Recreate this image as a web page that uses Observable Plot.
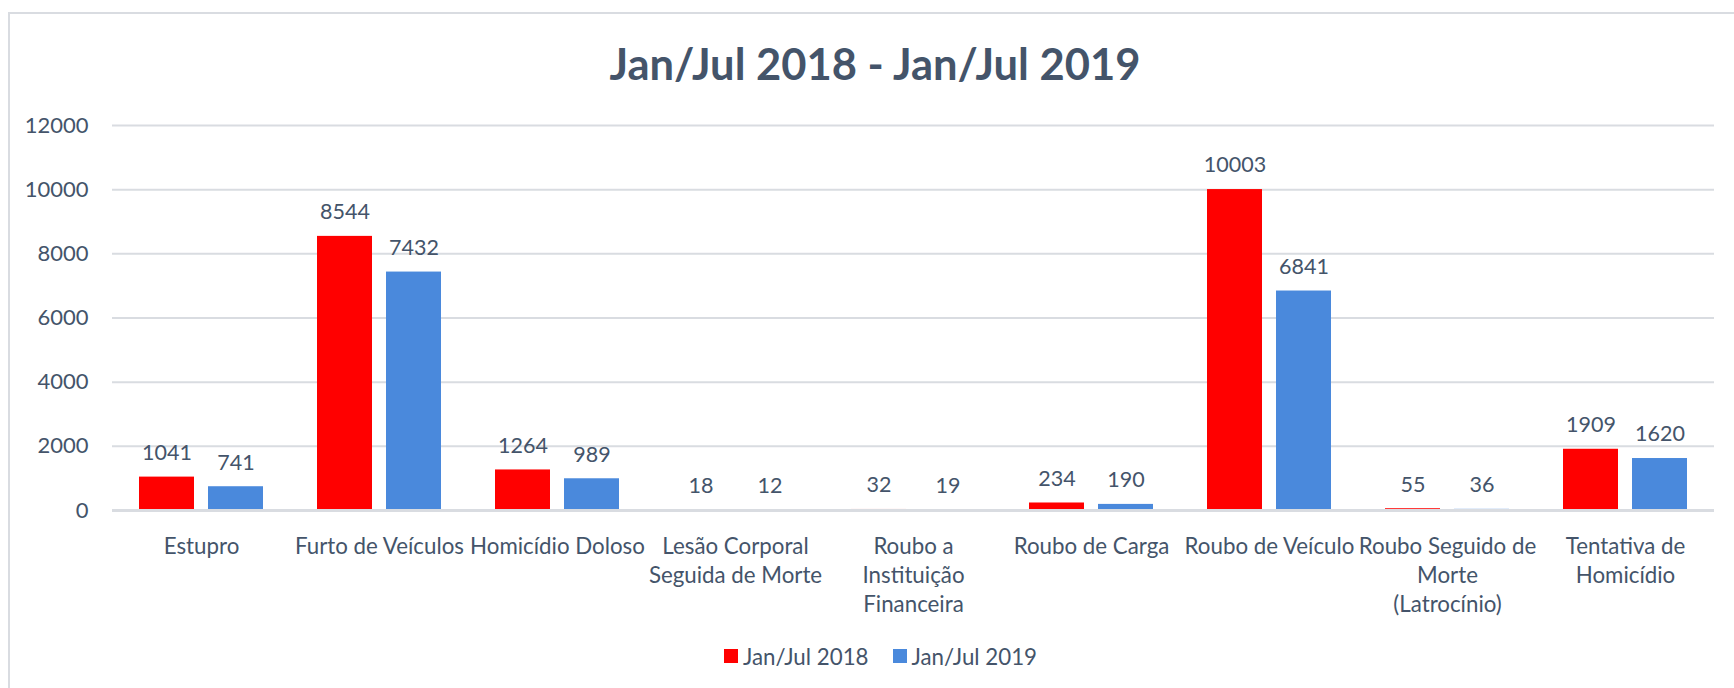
<!DOCTYPE html>
<html><head><meta charset="utf-8">
<script src="https://cdn.jsdelivr.net/npm/d3@7"></script>
<script src="https://cdn.jsdelivr.net/npm/@observablehq/plot@0.6"></script>
<style>
html,body{margin:0;padding:0;background:#fff;overflow:hidden;width:1734px;height:688px}
#wrap{position:relative;width:1734px;height:688px;overflow:hidden;font-family:Lato,"Open Sans",sans-serif;color:#44546a}
#frame{position:absolute;left:8px;top:12px;width:1726px;height:676px;border-top:2px solid #d9dce1;border-left:2px solid #d9dce1;box-sizing:border-box}
#title{position:absolute;left:0;width:1750px;top:41px;text-align:center;font-weight:bold;font-size:43.5px;line-height:45px;white-space:nowrap}
#chart{position:absolute;left:0;top:95px}
#legend{position:absolute;left:0;width:1761px;top:641px;height:30px;display:flex;justify-content:center;align-items:center;font-size:22.3px}
.item{display:flex;align-items:center;margin:0 12px}
.sw{width:14px;height:14px;margin-right:5px}
</style>
</head><body>
<div id="wrap">
  <div id="frame"></div>
  <div id="title"></div>
  <div id="chart"></div>
  <div id="legend"></div>
</div>
<script>
const titleText = "Jan/Jul 2018 - Jan/Jul 2019";
const categories = ["Estupro","Furto de Veículos","Homicídio Doloso","Lesão Corporal Seguida de Morte","Roubo a Instituição Financeira","Roubo de Carga","Roubo de Veículo","Roubo Seguido de Morte (Latrocínio)","Tentativa de Homicídio"];
const categoryLabels = ["Estupro","Furto de Veículos","Homicídio Doloso","Lesão Corporal\nSeguida de Morte","Roubo a\nInstituição\nFinanceira","Roubo de Carga","Roubo de Veículo","Roubo Seguido de\nMorte\n(Latrocínio)","Tentativa de\nHomicídio"];
const series = ["Jan/Jul 2018","Jan/Jul 2019"];
const values2018 = [1041,8544,1264,18,32,234,10003,55,1909];
const values2019 = [741,7432,989,12,19,190,6841,36,1620];
const colors = ["#ff0000","#4a89dc"];
const yTicks = [0,2000,4000,6000,8000,10000,12000];

const rows = categories.flatMap((c,i)=>[
  {category:c, series:series[0], value:values2018[i]},
  {category:c, series:series[1], value:values2019[i]}
]);

document.getElementById("title").textContent = titleText;

const chart = Plot.plot({
  width:1734, height:535,
  marginLeft:110, marginRight:19, marginTop:30, marginBottom:120,
  style:{fontFamily:"Lato, 'Open Sans', sans-serif", fontSize:"21px", color:"#44546a", background:"transparent", overflow:"visible"},
  fx:{domain:categories, padding:0, label:null, axis:null},
  x:{domain:series, paddingInner:0.203, paddingOuter:0.39, axis:null},
  y:{domain:[0,12000], label:null, axis:null},
  color:{domain:series, range:colors},
  marks:[
    Plot.gridY(yTicks.filter(t=>t>0),{stroke:"#d9dce1", strokeOpacity:1, strokeWidth:2}),
    Plot.barY(rows,{fx:"category", x:"series", y:"value", fill:"series"}),
    Plot.ruleY([0],{stroke:"#d9dce1", strokeWidth:3}),
    Plot.text(rows,{fx:"category", x:"series", y:"value", text:d=>String(d.value), dy:-24, fill:"#44546a", fontSize:21.5}),
    Plot.axisY(yTicks,{tickSize:0, tickPadding:24, fontSize:22, label:null, tickFormat:d=>String(d)}),
    Plot.axisFx({anchor:"bottom", tickSize:0, tickPadding:23, fontSize:22.3, lineHeight:1.3, label:null,
      tickFormat:c=>categoryLabels[categories.indexOf(c)]})
  ]
});
document.getElementById("chart").appendChild(chart);

const legend = document.getElementById("legend");
series.forEach((s,i)=>{
  const it = document.createElement("div"); it.className="item";
  const sw = document.createElement("div"); sw.className="sw"; sw.style.background=colors[i];
  const tx = document.createElement("span"); tx.textContent=s;
  it.appendChild(sw); it.appendChild(tx); legend.appendChild(it);
});
</script>
</body></html>
